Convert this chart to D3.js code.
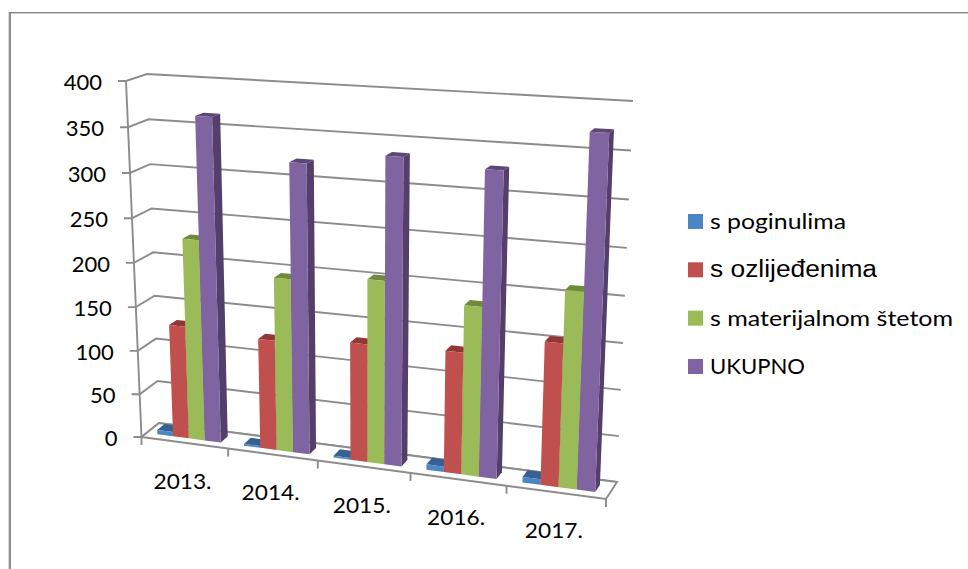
<!DOCTYPE html>
<html><head><meta charset="utf-8">
<script src="https://cdn.jsdelivr.net/npm/d3@7/dist/d3.min.js"></script>
<style>html,body{margin:0;padding:0;background:#fff}svg{display:block}</style>
</head><body><svg id="c" width="968" height="569"></svg>
<script>
const categories = ["2013.","2014.","2015.","2016.","2017."];
const seriesNames = ["s poginulima","s ozlijeđenima","s materijalnom štetom","UKUPNO"];
const poginuli = [5,2,2,6,6];
const ozlijedeni = [129,124,131,133,154];
const materijalna = [228,194,202,184,210];
const ukupno = [364,321,335,328,373];
const tickValues = [0,50,100,150,200,250,300,350,400];
const frontColors = ["#4A85C4","#C0504D","#9BBB59","#8064A2"];
const topColors = ["#366092","#923735","#6F8A3A","#5C4776"];
const sideColors = ["#2F5580","#8A3836","#6C8738","#543F6B"];
const legendWidths = [136,167,243,95];

const svg = d3.select("#c");
const seriesValues = [poginuli, ozlijedeni, materijalna, ukupno];

const warpBy = p => t => t/(p+(1-p)*t);
const v = [0,1];
const edge = (x0,x1,y0,y1)=>({x:d3.scaleLinear(v,[x0,x1]),y:d3.scaleLinear(v,[y0,y1])});
const FL = edge(141.5,126,437,81), FR = edge(606,622,499,109),
      BL = edge(159,147,423,74),   BR = edge(617,633,482,101);
const catScale = d3.scaleLinear([0,categories.length],[0,1]);
const valScale = d3.scaleLinear([0,400],[0,1]);
const warpC = warpBy(1.09), warpV = warpBy(1.045);
const hh = val => warpV(valScale(val));
function P(c,d,val){
  const u = warpC(catScale(c)), h = hh(val);
  const fx = FL.x(h)+(FR.x(h)-FL.x(h))*u, fy = FL.y(h)+(FR.y(h)-FL.y(h))*u;
  const bx = BL.x(h)+(BR.x(h)-BL.x(h))*u, by = BL.y(h)+(BR.y(h)-BL.y(h))*u;
  return [fx+(bx-fx)*d, fy+(by-fy)*d];
}
const line = d3.line();
const gray = "#8c8c8c";

// frame
svg.append("rect").attr("x",8).attr("y",12).attr("width",1).attr("height",557).attr("fill","#dcdcdc");
svg.append("rect").attr("x",9).attr("y",12).attr("width",2).attr("height",557).attr("fill","#8f8f8f");
svg.append("rect").attr("x",9).attr("y",12).attr("width",959).attr("height",1.4).attr("fill","#868686");

// gridlines
const g = svg.append("g").attr("fill","none").attr("stroke",gray).attr("stroke-width",1.9);
tickValues.forEach(t=>{
  const p0=P(0,0,t), p1=P(0,1,t), p2=P(5,1,t);
  g.append("path").attr("d",line([[p0[0]-8,p0[1]],p0,p1,p2]));
});
g.append("path").attr("d",line([P(0,0,400),P(0,0,0)]));
svg.append("path").attr("d",line([P(0,0,0),P(5,0,0),P(5,1,0),P(0,1,0)])+"Z").attr("fill","#fff").attr("stroke",gray).attr("stroke-width",1.9);
d3.range(0,6).forEach(i=>{
  const p=P(i,0,0);
  svg.append("path").attr("d",line([p,[p[0],p[1]+8]])).attr("stroke",gray).attr("stroke-width",1.9);
});

// bars
const x4 = d3.scaleBand().domain(d3.range(4)).range([0.125,0.86]);
categories.forEach((cat,i)=>{
  seriesValues.forEach((vals,s)=>{
    const c0=i+x4(s), c1=c0+x4.bandwidth(), d0=0.3, d1=0.72, h=vals[i];
    const bar=svg.append("g");
    bar.append("path").attr("d",line([P(c1,d0,0),P(c1,d1,0),P(c1,d1,h),P(c1,d0,h)])+"Z").attr("fill",sideColors[s]);
    bar.append("path").attr("d",line([P(c0,d0,h),P(c1,d0,h),P(c1,d1,h),P(c0,d1,h)])+"Z").attr("fill",topColors[s]);
    bar.append("path").attr("d",line([P(c0,d0,0),P(c1,d0,0),P(c1,d0,h),P(c0,d0,h)])+"Z").attr("fill",frontColors[s]);
  });
});

const font = "Lato, 'Open Sans', sans-serif";
tickValues.forEach(t=>{
  const p=P(0,0,t);
  svg.append("text").attr("x",p[0]-24).attr("y",p[1]+1).attr("dy","0.35em")
    .attr("text-anchor","end").attr("font-family",font).attr("font-size",22).attr("fill","#000").text(t);
});
categories.forEach((c,i)=>{
  const p=P(i+0.5,0,0);
  svg.append("text").attr("x",p[0]-2).attr("y",p[1]+46).attr("text-anchor","middle")
    .attr("font-family",font).attr("font-size",22).attr("fill","#000").attr("textLength",58).attr("lengthAdjust","spacingAndGlyphs").text(c);
});
const legY = d3.scaleLinear([0,3],[214,359]);
seriesNames.forEach((n,i)=>{
  const y=legY(i);
  svg.append("rect").attr("x",688).attr("y",y).attr("width",15).attr("height",15).attr("fill",frontColors[i]);
  const isArial=i===1;
  svg.append("text").attr("x",710).attr("y",y+15).attr("font-family",isArial?"'Liberation Sans',Arial,sans-serif":font)
    .attr("font-size",isArial?23:22).attr("textLength",legendWidths[i]).attr("lengthAdjust","spacingAndGlyphs").attr("fill","#000").text(n);
});
</script></body></html>
